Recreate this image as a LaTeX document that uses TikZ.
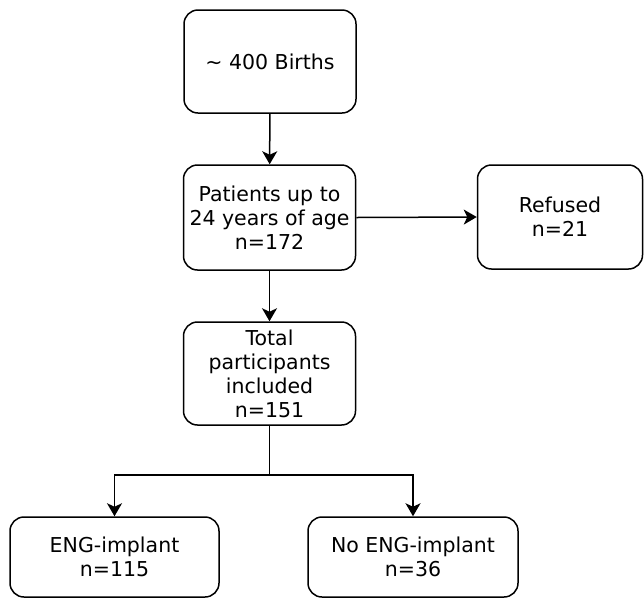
\documentclass[tikz,border=0pt]{standalone}
\usepackage{fontspec}
\setmainfont{DejaVu Sans}
\usetikzlibrary{arrows.meta,calc}
\begin{document}
\begin{tikzpicture}[x=1pt,y=-1pt,
  box/.style={draw=black, line width=1.5pt, rounded corners=14pt, inner sep=0pt,
    align=center, font=\fontsize{20.5pt}{24pt}\selectfont, text=black},
  conn/.style={draw=black, line width=1.5pt, -{Stealth[length=13pt,width=15pt,inset=3.5pt]}}]
\useasboundingbox (0,0) rectangle (644,598);
\node[box, minimum width=172pt, minimum height=103pt] (births) at (270,61.5) {\textasciitilde\ 400 Births};
\node[box, minimum width=172pt, minimum height=105pt] (patients) at (269.5,217.5) {Patients up to\\24 years of age\\n=172};
\node[box, minimum width=165pt, minimum height=104pt] (refused) at (560,217) {Refused\\n=21};
\node[box, minimum width=172pt, minimum height=103pt] (total) at (269.5,373.5) {Total\\participants\\included\\n=151};
\node[box, minimum width=209pt, minimum height=80pt] (eng) at (114.5,557) {ENG-implant\\n=115};
\node[box, minimum width=210pt, minimum height=80pt] (noeng) at (413,557) {No ENG-implant\\n=36};
\coordinate (split) at ($(total.south)+(0,49)$);
\draw[conn] (births) -- (patients);
\draw[conn] (patients) -- (total);
\draw[conn] (patients.east) -- (refused.west);
\draw[conn] (total.south) -- (split) -| (eng.north);
\draw[conn] (total.south) -- (split) -| (noeng.north);
\end{tikzpicture}
\end{document}
